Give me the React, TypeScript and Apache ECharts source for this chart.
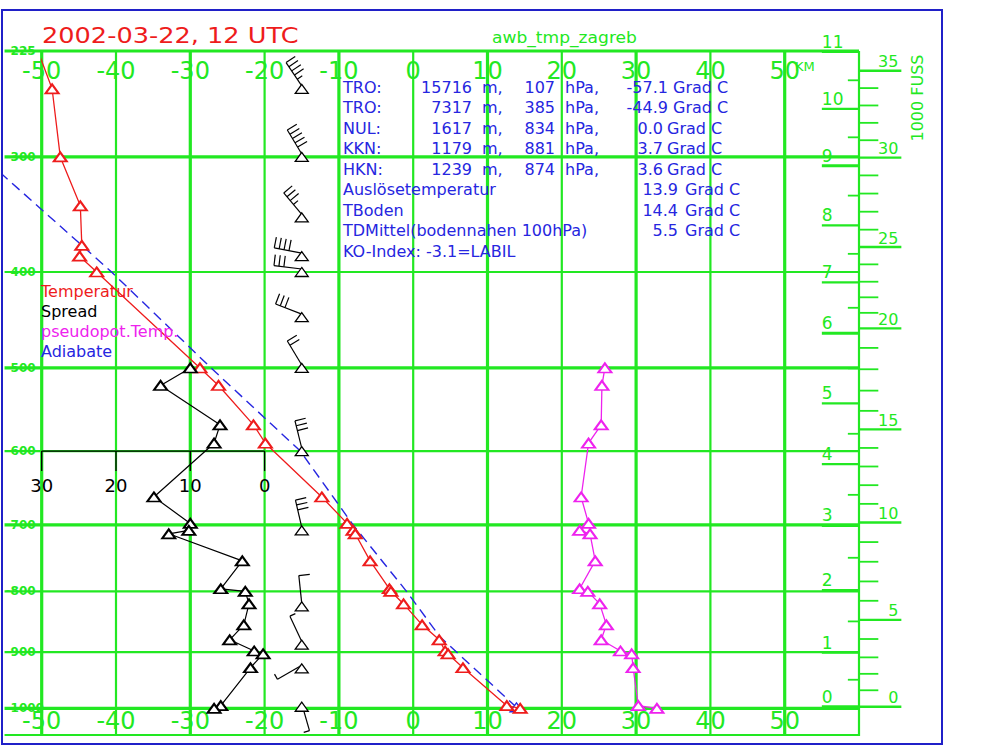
import React, { useEffect, useRef } from "react";
import * as echarts from "echarts";

// ---------- scale helpers (Stüve diagram: y ~ p^kappa) ----------
const KAPPA = 0.286;
const S = (p: number) => Math.pow(p, KAPPA);
const P_TOP = 225;
const P_BOTTOM = 1052;
const T_MIN = -50;
const T_MAX = 60;
const T_LEFT_EXT = -55;
const WIND_T = -15;

// ---------- axis ticks ----------
const pressureLevels = [225, 300, 400, 500, 600, 700, 800, 900, 1000];
const pressureLabels = ["-225", "-300", "-400", "-500", "-600", "-700", "-800", "-900", "-1000"];
const thickLevels = [225, 300, 500, 700, 1000];
const tempTicks = [-50, -40, -30, -20, -10, 0, 10, 20, 30, 40, 50];
const tempTickLabels = ["-50", "-40", "-30", "-20", "-10", "0", "10", "20", "30", "40", "50"];
const thickTemps = [-50, -30, -10, 10, 30, 50];
const spreadTicks = [30, 20, 10, 0];
const spreadTickLabels = ["30", "20", "10", "0"];
const kmLabels = ["0", "1", "2", "3", "4", "5", "6", "7", "8", "9", "10", "11"];
const kmTickP = [997, 901, 798, 701, 617, 541, 462, 410, 357, 307, 264, 225.5];
const feetLabels = ["0", "5", "10", "15", "20", "25", "30", "35"];

// ---------- sounding data ----------
const tempP = [225, 250, 300, 340, 375, 385, 400, 500, 520, 567, 590, 661, 698, 708, 713, 753, 796, 800, 820, 854, 879, 898, 903, 927, 995, 1000];
const tempT = [-50.5, -48.6, -47.5, -44.8, -44.6, -44.9, -42.6, -28.7, -26.2, -21.5, -19.9, -12.3, -8.9, -8.1, -7.8, -5.8, -3.2, -3.0, -1.3, 1.2, 3.5, 4.3, 4.7, 6.7, 12.6, 14.4];

const lowP = [500, 520, 567, 590, 661, 698, 708, 713, 753, 796, 800, 820, 854, 879, 898, 903, 927, 995, 1000];
const spreadVals = [10.0, 14.0, 6.0, 6.8, 14.9, 10.0, 10.2, 12.9, 3.0, 5.9, 2.6, 2.1, 2.8, 4.7, 1.4, 0.2, 1.9, 5.9, 6.8];
const thetaE = [25.8, 25.4, 25.3, 23.6, 22.6, 23.6, 22.4, 23.8, 24.5, 22.4, 23.5, 25.1, 26.0, 25.3, 27.9, 29.4, 29.6, 30.3, 32.8];

const adiabP = [998, 874, 800, 700, 600, 500, 400, 375, 314];
const adiabT = [13.9, 3.6, -0.9, -8.1, -15.2, -27.2, -40.6, -44.6, -55.3];

const windP = [250, 300, 350, 385, 400, 445, 500, 600, 708, 824, 887, 928, 997];
const windDir = [326, 329, 320, 281, 277, 291, 329, 346, 347, 354, 335, 240, 164];
const windSpd = [45, 50, 35, 40, 30, 30, 20, 30, 30, 10, 5, 5, 5];

// ---------- info block texts ----------
const infoLabels = ["TRO:", "TRO:", "NUL:", "KKN:", "HKN:"];
const infoHeights = ["15716", "7317", "1617", "1179", "1239"];
const infoPress = ["107", "385", "834", "881", "874"];
const infoTemps = ["-57.1", "-44.9", "0.0", "3.7", "3.6"];
const extraLabels = ["Auslösetemperatur", "TBoden", "TDMittel(bodennahen 100hPa)"];
const extraTemps = ["13.9", "14.4", "5.5"];
const koText = "KO-Index: -3.1=LABIL";
const legendTexts = ["Temperatur", "Spread", "pseudopot.Temp.", "Adiabate"];

// ---------- styles ----------
const GREEN = "#22e822";
const RED = "#ee1c1c";
const MAGENTA = "#ee22ee";
const BLUE = "#2626e0";
const BORDER = "#2020c8";
const FONT = '"DejaVu Sans", "Liberation Sans", sans-serif';

function txt(x: number, y: number, text: string, fill: string, fontSize: number, align = "left", extra: any = {}) {
  return {
    type: "text",
    x,
    y,
    z: 20,
    silent: true,
    style: { text, fill, fontSize, fontFamily: FONT, align, verticalAlign: "middle" },
    ...extra,
  };
}

function buildGraphic() {
  const els: any[] = [];
  els.push({
    type: "rect",
    z: 30,
    silent: true,
    shape: { x: 2, y: 10, width: 940, height: 734 },
    style: { fill: "none", stroke: BORDER, lineWidth: 2 },
  });
  els.push(txt(42, 36, "2002-03-22, 12 UTC", RED, 21, "left", { scaleX: 1.22 }));
  els.push(txt(492, 38, "awb_tmp_zagreb", GREEN, 15, "left", { scaleX: 1.14 }));
  els.push(txt(795, 66, "KM", GREEN, 13, "left"));
  els.push(txt(917, 98, "1000 FUSS", GREEN, 16, "center", { rotation: Math.PI / 2 }));

  const rowY = (i: number) => 87 + i * 20.5;
  const tRight = [668, 668, 663, 663, 663];
  const gradX = [673, 673, 667, 667, 667];
  infoLabels.forEach((lab, i) => {
    const y = rowY(i);
    els.push(txt(343, y, lab, BLUE, 16, "left"));
    els.push(txt(472, y, infoHeights[i], BLUE, 16, "right"));
    els.push(txt(482, y, "m,", BLUE, 16, "left"));
    els.push(txt(555, y, infoPress[i], BLUE, 16, "right"));
    els.push(txt(565, y, "hPa,", BLUE, 16, "left"));
    els.push(txt(tRight[i], y, infoTemps[i], BLUE, 16, "right"));
    els.push(txt(gradX[i], y, "Grad C", BLUE, 16, "left"));
  });
  extraLabels.forEach((lab, j) => {
    const y = rowY(5 + j);
    els.push(txt(343, y, lab, BLUE, 16, "left"));
    els.push(txt(678, y, extraTemps[j], BLUE, 16, "right"));
    els.push(txt(685, y, "Grad C", BLUE, 16, "left"));
  });
  els.push(txt(343, rowY(8), koText, BLUE, 16, "left"));

  const legendColors = [RED, "#000000", MAGENTA, BLUE];
  legendTexts.forEach((t, i) => {
    els.push(txt(41, 291 + i * 20, t, legendColors[i], 16, "left"));
  });
  return els;
}

function line(x1: number, y1: number, x2: number, y2: number, stroke: string, lineWidth: number) {
  return { type: "line", shape: { x1, y1, x2, y2 }, style: { stroke, lineWidth } };
}
function label(x: number, y: number, text: string, fill: string, fontSize: number, align: string, verticalAlign: string, fontWeight = "normal") {
  return { type: "text", x, y, style: { text, fill, fontSize, fontFamily: FONT, fontWeight, align, verticalAlign } };
}
function tri(x: number, y: number, color: string) {
  return {
    type: "polygon",
    shape: { points: [[x, y - 4.5], [x + 6.5, y + 4.5], [x - 6.5, y + 4.5]] },
    style: { fill: "#fff", stroke: color, lineWidth: 1.3 },
  };
}

// feet ticks: position along the height scale (piecewise linear between km ticks)
const KM_PER_KFT = 0.3048;
const feetTickS = Array.from({ length: 36 }, (_, k) => {
  const h = k * KM_PER_KFT;
  const i = Math.min(Math.floor(h), kmTickP.length - 2);
  const f = h - i;
  return S(kmTickP[i]) + f * (S(kmTickP[i + 1]) - S(kmTickP[i]));
});

function buildOption() {
  const tempData = tempP.map((p, i) =>
    i === 0 ? { value: [tempT[i], S(p)], symbol: "none" } : [tempT[i], S(p)]
  );
  const spreadData = lowP.map((p, i) => [spreadVals[i], S(p)]);
  const thetaData = lowP.map((p, i) => [thetaE[i], S(p)]);

  const triangle = {
    symbol: "emptyTriangle",
    symbolSize: [13, 9],
    showAllSymbol: true,
    silent: true,
  };

  return {
    animation: false,
    backgroundColor: "#ffffff",
    grid: { left: 41.7, top: 51, right: 141, bottom: 10, containLabel: false },
    xAxis: [
      { type: "value", min: T_MIN, max: T_MAX, show: false },
      { type: "value", min: -80, max: 30, inverse: true, show: false },
    ],
    yAxis: [{ type: "value", min: S(P_TOP), max: S(P_BOTTOM), inverse: true, show: false }],
    graphic: { elements: buildGraphic() },
    series: [
      // horizontal pressure lines with labels
      {
        type: "custom",
        z: 1,
        silent: true,
        data: pressureLevels.map((p) => [p]),
        renderItem: (params: any, api: any) => {
          const p = api.value(0);
          const a = api.coord([T_LEFT_EXT, S(p)]);
          const b = api.coord([T_MAX, S(p)]);
          const w = thickLevels.indexOf(p) >= 0 ? 3.2 : 2.2;
          return {
            type: "group",
            children: [
              line(a[0], a[1], b[0], b[1], GREEN, w),
              label(a[0] + 1, a[1], pressureLabels[params.dataIndex], GREEN, 12, "left", "middle", "bold"),
            ],
          };
        },
      },
      // vertical temperature lines with labels top and bottom
      {
        type: "custom",
        z: 1,
        silent: true,
        data: tempTicks.map((t) => [t]),
        renderItem: (params: any, api: any) => {
          const t = api.value(0);
          const a = api.coord([t, S(P_TOP)]);
          const b = api.coord([t, S(P_BOTTOM)]);
          const y1000 = api.coord([t, S(1000)])[1];
          const w = thickTemps.indexOf(t) >= 0 ? 3.2 : 2.2;
          const lab = tempTickLabels[params.dataIndex];
          return {
            type: "group",
            children: [
              line(a[0], a[1], b[0], b[1], GREEN, w),
              label(a[0], a[1] + 20, lab, GREEN, 24, "center", "middle"),
              label(a[0], y1000 + 13, lab, GREEN, 24, "center", "middle"),
            ],
          };
        },
      },
      // frame: bottom line and right axis line
      {
        type: "custom",
        z: 1,
        silent: true,
        data: [[0]],
        renderItem: (params: any, api: any) => {
          const a = api.coord([T_LEFT_EXT, S(P_BOTTOM)]);
          const b = api.coord([T_MAX, S(P_BOTTOM)]);
          const c = api.coord([T_MAX, S(P_TOP)]);
          return {
            type: "group",
            children: [line(a[0], a[1] - 1, b[0], b[1] - 1, GREEN, 2.2), line(c[0], c[1], b[0], b[1], GREEN, 2.2)],
          };
        },
      },
      // km scale
      {
        type: "custom",
        z: 1,
        silent: true,
        data: kmTickP.map((p, i) => [i, p]),
        renderItem: (params: any, api: any) => {
          const i = params.dataIndex;
          const p = kmTickP[i];
          const a = api.coord([55, S(p)]);
          const b = api.coord([T_MAX, S(p)]);
          const ch: any[] = [
            line(a[0], a[1], b[0], b[1], GREEN, i % 3 === 0 ? 3 : 2.2),
            label(a[0], a[1] - 1.5, kmLabels[i], GREEN, 17, "left", "bottom"),
          ];
          if (i < kmTickP.length - 1) {
            const sm = (S(p) + S(kmTickP[i + 1])) / 2;
            const h1 = api.coord([58.5, sm]);
            const h2 = api.coord([T_MAX, sm]);
            ch.push(line(h1[0], h1[1], h2[0], h2[1], GREEN, 1.8));
          }
          return { type: "group", children: ch };
        },
      },
      // feet scale
      {
        type: "custom",
        z: 1,
        silent: true,
        data: feetTickS.map((s, k) => [k, s]),
        renderItem: (params: any, api: any) => {
          const k = params.dataIndex;
          const s = feetTickS[k];
          const major = k % 5 === 0;
          const a = api.coord([T_MAX, s]);
          const b = api.coord([major ? 65.7 : 62.6, s]);
          const ch: any[] = [line(a[0], a[1], b[0], b[1], GREEN, major ? 2.4 : 1.8)];
          if (major) {
            const l = api.coord([65.3, s]);
            ch.push(label(l[0], l[1] - 1, feetLabels[k / 5], GREEN, 16, "right", "bottom"));
          }
          return { type: "group", children: ch };
        },
      },
      // spread scale
      {
        type: "custom",
        z: 2,
        silent: true,
        xAxisIndex: 1,
        data: spreadTicks.map((v) => [v]),
        renderItem: (params: any, api: any) => {
          const v = api.value(0);
          const c = api.coord([v, S(600)]);
          const ch: any[] = [
            line(c[0], c[1], c[0], c[1] + 20, "#000", 1.3),
            label(c[0], c[1] + 34, spreadTickLabels[params.dataIndex], "#000", 18, "center", "middle"),
          ];
          if (params.dataIndex === 0) {
            const e = api.coord([0, S(600)]);
            ch.push(line(c[0], c[1], e[0], e[1], "#000", 1.3));
          }
          return { type: "group", children: ch };
        },
      },
      // temperature
      {
        type: "line",
        name: "Temperatur",
        z: 4,
        data: tempData,
        ...triangle,
        lineStyle: { color: RED, width: 1.3 },
        itemStyle: { color: RED, borderWidth: 1.3 },
      },
      // spread
      {
        type: "line",
        name: "Spread",
        z: 4,
        xAxisIndex: 1,
        data: spreadData,
        ...triangle,
        lineStyle: { color: "#000", width: 1.2 },
        itemStyle: { color: "#000", borderWidth: 1.3 },
      },
      // pseudopotential temperature
      {
        type: "line",
        name: "pseudopot.Temp.",
        z: 4,
        data: thetaData,
        ...triangle,
        lineStyle: { color: MAGENTA, width: 1.3 },
        itemStyle: { color: MAGENTA, borderWidth: 1.3 },
      },
      // adiabat (drawn beyond the plot's left edge as in the original)
      {
        type: "custom",
        name: "Adiabate",
        z: 4,
        silent: true,
        data: adiabP.map((p, i) => [adiabT[i], S(p)]),
        renderItem: (params: any, api: any) => {
          if (params.dataIndex !== 0) return { type: "group", children: [] };
          const pts = adiabP.map((p, i) => api.coord([adiabT[i], S(p)]));
          return {
            type: "group",
            children: [
              {
                type: "polyline",
                shape: { points: pts },
                style: { fill: "none", stroke: BLUE, lineWidth: 1.4, lineDash: [10, 6] },
              },
              tri(pts[0][0], pts[0][1], BLUE),
            ],
          };
        },
      },
      // wind barbs
      {
        type: "custom",
        z: 5,
        silent: true,
        data: windP.map((p, i) => [p, windDir[i], windSpd[i]]),
        renderItem: (params: any, api: any) => {
          const p = api.value(0);
          const dir = api.value(1);
          const spd = api.value(2);
          const c = api.coord([WIND_T, S(p)]);
          const bx = c[0];
          const by = c[1];
          const r = (dir * Math.PI) / 180;
          const ux = Math.sin(r);
          const uy = -Math.cos(r);
          const fx = -uy;
          const fy = ux;
          const sx = bx;
          const sy = by - 3;
          const L = 28;
          const tx = sx + ux * L;
          const ty = sy + uy * L;
          const ch: any[] = [line(sx, sy, tx, ty, "#000", 1.2)];
          const full = Math.floor(spd / 10);
          const half = spd % 10 >= 5;
          let d = 0;
          for (let i = 0; i < full; i++) {
            const px = tx - ux * d;
            const py = ty - uy * d;
            ch.push(line(px, py, px + fx * 11, py + fy * 11, "#000", 1.2));
            d += 5;
          }
          if (half) {
            const px = tx - ux * d;
            const py = ty - uy * d;
            ch.push(line(px, py, px + fx * 6, py + fy * 6, "#000", 1.2));
          }
          ch.push(tri(bx, by, "#000"));
          return { type: "group", children: ch };
        },
      },
    ],
  };
}

export default function App() {
  const ref = useRef<HTMLDivElement>(null);
  useEffect(() => {
    if (!ref.current) return;
    const chart = echarts.init(ref.current, null, { renderer: "svg" });
    chart.setOption(buildOption() as any);
    return () => chart.dispose();
  }, []);
  return (
    <div
      ref={ref}
      style={{ position: "absolute", left: 0, top: 0, width: 1000, height: 746, background: "#fff" }}
    />
  );
}
